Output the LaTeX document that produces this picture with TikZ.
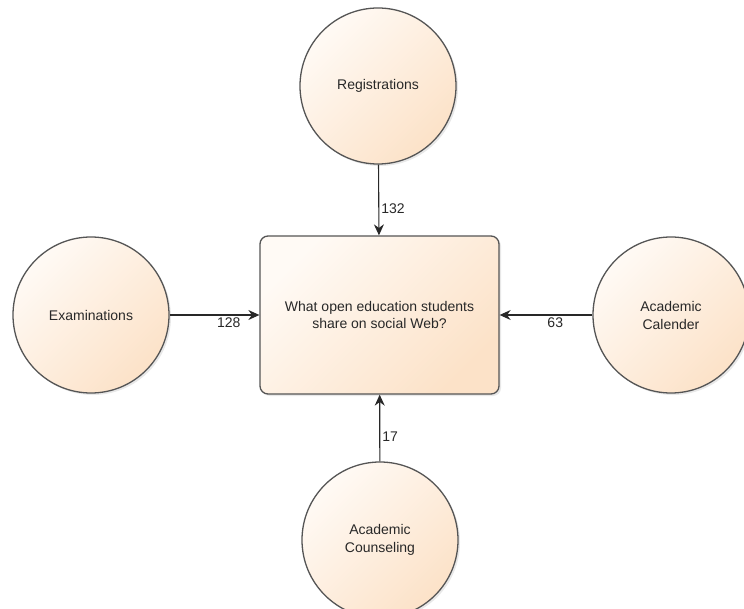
\documentclass[tikz,border=0pt]{standalone}
\usepackage{fontspec}
\setmainfont{Liberation Sans}
\usetikzlibrary{arrows.meta,positioning,shadows}
\definecolor{peachlight}{RGB}{255,250,245}
\definecolor{peach}{RGB}{252,226,200}
\definecolor{rim}{RGB}{85,85,85}
\definecolor{ink}{RGB}{40,40,40}
\tikzset{
  shade/.style={top color=peachlight, bottom color=peach, shading angle=45,
    drop shadow={opacity=0.18, shadow xshift=2pt, shadow yshift=-2pt}},
  topic/.style={draw=rim, line width=1.3pt, rounded corners=8pt, shade, align=center,
    minimum width=239pt, minimum height=158pt, text=ink, font=\fontsize{14}{17}\selectfont},
  source/.style={draw=rim, line width=1.3pt, circle, shade, align=center, text=ink,
    minimum size=156pt, inner sep=0pt, font=\fontsize{14}{18}\selectfont},
  flow/.style={draw=ink, line width=1.1pt, -{Stealth[length=11pt, width=10pt]}},
  lbl/.style={font=\fontsize{14}{16}\selectfont, text=ink, inner sep=2pt}
}
\begin{document}
\begin{tikzpicture}[x=1pt, y=-1pt]
  \useasboundingbox (0,0) rectangle (744,609);
  % centre question
  \node[topic] (q) at (379.5,315) {What open education students\\share on social Web?};
  % sources
  \node[source] (reg) at (378,86) {Registrations};
  \node[source] (exam) at (91,315) {Examinations};
  \node[source] (cal) at (671,315) {Academic\\Calender};
  \node[source] (couns) at (380,540) {Academic\\Counseling};
  % flows
  \draw[flow] (reg) -- (q) node[lbl, pos=0.62, right] {132};
  \draw[flow] (exam) -- (q) node[lbl, pos=0.66, below] {128};
  \draw[flow] (cal) -- (q) node[lbl, pos=0.4, below] {63};
  \draw[flow] (couns) -- (q) node[lbl, pos=0.37, right] {17};
\end{tikzpicture}
\end{document}
